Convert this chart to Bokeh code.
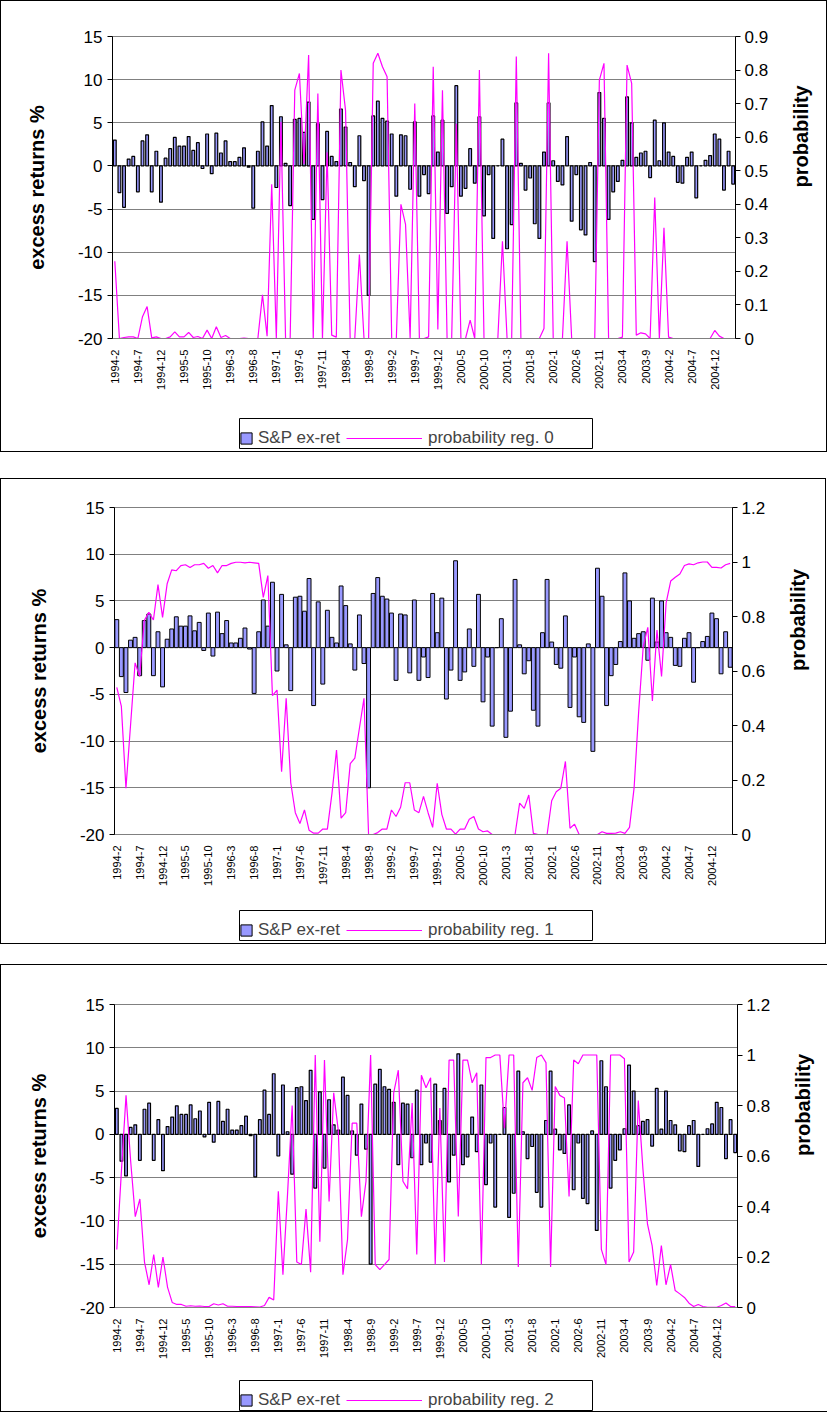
import math
from bokeh.plotting import figure
from bokeh.models import (Range1d, LinearAxis, FixedTicker, Legend, LegendItem,
                          Spacer, ColumnDataSource, BoxAnnotation)
from bokeh.layouts import column
from bokeh.embed import file_html
from bokeh.resources import INLINE

tick_labels = ["1994-2", "1994-7", "1994-12", "1995-5", "1995-10", "1996-3", "1996-8",
               "1997-1", "1997-6", "1997-11", "1998-4", "1998-9", "1999-2", "1999-7",
               "1999-12", "2000-5", "2000-10", "2001-3", "2001-8", "2002-1", "2002-6",
               "2002-11", "2003-4", "2003-9", "2004-2", "2004-7", "2004-12"]

excess = [3.0, -3.1, -4.8, 0.8, 1.1, -3.0, 2.9, 3.6, -3.0, 1.7,
          -4.2, 0.9, 2.0, 3.3, 2.3, 2.3, 3.4, 1.8, 2.7, -0.3,
          3.7, -0.9, 3.8, 1.5, 2.9, 0.5, 0.5, 1.0, 2.1, -0.15,
          -4.9, 1.7, 5.1, 2.3, 7.0, -2.5, 5.7, 0.3, -4.6, 5.4,
          5.5, 3.9, 7.4, -6.2, 4.9, -3.9, 4.0, 1.1, 0.5, 6.6,
          4.5, 0.4, -2.4, 3.5, -1.7, -15.0, 5.8, 7.5, 5.5, 5.2,
          3.7, -3.5, 3.6, 3.5, -2.7, 5.1, -3.5, -1.0, -3.2, 5.8,
          1.6, 5.3, -5.5, -2.4, 9.3, -3.5, -2.6, 2.0, -2.0, 5.7,
          -5.8, -1.0, -8.4, 0.0, 3.1, -9.6, -6.8, 7.3, 0.3, -2.8,
          -1.4, -6.7, -8.4, 1.6, 7.3, 0.6, -1.8, -2.2, 3.4, -6.4,
          -1.0, -7.4, -8.0, 0.4, -11.1, 8.5, 5.5, -6.2, -3.0, -1.8,
          0.65, 8.0, 5.0, 1.0, 1.5, 1.7, -1.35, 5.3, 0.6, 5.0,
          1.6, 1.1, -1.9, -2.0, 1.0, 1.6, -3.7, 0.0, 0.65, 1.2,
          3.7, 3.1, -2.8, 1.7, -2.1]

prob_reg0 = [0.23, 0.0, 0.003, 0.005, 0.005, 0.0, 0.065, 0.095, 0.002, 0.005,
             0.0, 0.0, 0.005, 0.02, 0.005, 0.005, 0.018, 0.003, 0.006, 0.0,
             0.025, 0.0, 0.035, 0.003, 0.009, 0.0, 0.0, 0.0, 0.001, 0.0,
             0.0, 0.0, 0.13, 0.007, 0.46, 0.0, 0.645, 0.0, 0.0, 0.74,
             0.79, 0.52, 0.845, 0.0, 0.73, 0.0, 0.555, 0.01, 0.004, 0.80,
             0.68, 0.0, 0.0, 0.25, 0.0, 0.0, 0.82, 0.85, 0.81, 0.78,
             0.0, 0.0, 0.40, 0.34, 0.0, 0.70, 0.0, 0.0, 0.005, 0.81,
             0.027, 0.74, 0.0, 0.0, 0.64, 0.0, 0.0, 0.055, 0.0, 0.80,
             0.0, 0.0, 0.0, 0.0, 0.29, 0.0, 0.0, 0.84, 0.0, 0.0,
             0.0, 0.0, 0.0, 0.03, 0.85, 0.0, 0.0, 0.0, 0.29, 0.0,
             0.0, 0.0, 0.0, 0.0, 0.0, 0.77, 0.82, 0.0, 0.0, 0.0,
             0.004, 0.815, 0.76, 0.01, 0.017, 0.014, 0.0, 0.42, 0.0, 0.33,
             0.004, 0.0, 0.0, 0.0, 0.0, 0.0, 0.0, 0.0, 0.0, 0.0,
             0.024, 0.007, 0.0, 0.0, 0.0]

prob_reg1 = [0.54, 0.47, 0.17, 0.40, 0.63, 0.58, 0.785, 0.815, 0.787, 0.917,
             0.797, 0.92, 0.971, 0.968, 0.987, 0.99, 0.98, 0.99, 0.99, 0.995,
             0.977, 0.987, 0.96, 0.987, 0.987, 0.995, 0.999, 0.999, 0.997, 0.999,
             0.997, 0.995, 0.87, 0.95, 0.51, 0.53, 0.23, 0.50, 0.19, 0.08,
             0.04, 0.09, 0.016, 0.005, 0.005, 0.02, 0.02, 0.15, 0.31, 0.06,
             0.08, 0.26, 0.28, 0.39, 0.50, 0.0, 0.0, 0.007, 0.02, 0.02,
             0.09, 0.066, 0.10, 0.19, 0.19, 0.09, 0.08, 0.14, 0.08, 0.026,
             0.188, 0.074, 0.02, 0.02, 0.001, 0.02, 0.02, 0.056, 0.066, 0.02,
             0.01, 0.013, 0.0, 0.0, 0.0, 0.0, 0.0, 0.0, 0.115, 0.096,
             0.145, 0.004, 0.0, 0.0, 0.0, 0.124, 0.157, 0.17, 0.268, 0.023,
             0.038, 0.0, 0.0, 0.0, 0.0, 0.0, 0.01, 0.004, 0.004, 0.005,
             0.01, 0.004, 0.026, 0.17, 0.45, 0.69, 0.76, 0.49, 0.75, 0.58,
             0.85, 0.93, 0.944, 0.956, 0.987, 0.993, 0.99, 0.997, 1.0, 1.0,
             0.98, 0.98, 0.978, 0.99, 0.995]

prob_reg2 = [0.23, 0.54, 0.84, 0.58, 0.36, 0.43, 0.18, 0.09, 0.21, 0.08,
             0.20, 0.08, 0.02, 0.012, 0.012, 0.005, 0.007, 0.005, 0.006, 0.004,
             0.004, 0.015, 0.01, 0.015, 0.005, 0.005, 0.004, 0.004, 0.004, 0.004,
             0.003, 0.002, 0.008, 0.04, 0.03, 0.46, 0.13, 0.45, 0.80, 0.18,
             0.17, 0.39, 0.14, 1.0, 0.26, 0.98, 0.42, 0.85, 0.70, 0.13,
             0.27, 0.73, 0.73, 0.36, 0.50, 1.0, 0.17, 0.15, 0.17, 0.19,
             0.85, 0.94, 0.50, 0.47, 0.81, 0.21, 0.92, 0.87, 0.91, 0.17,
             0.79, 0.18, 0.98, 0.98, 0.36, 0.98, 0.98, 0.89, 0.93, 0.17,
             0.99, 0.99, 1.0, 1.0, 0.71, 1.0, 1.0, 0.16, 0.89, 0.91,
             0.86, 0.99, 1.0, 0.97, 0.16, 0.875, 0.84, 0.83, 0.44, 0.98,
             0.965, 1.0, 1.0, 1.0, 1.0, 0.23, 0.17, 1.0, 1.0, 1.0,
             0.985, 0.18, 0.22, 0.82, 0.55, 0.33, 0.245, 0.087, 0.245, 0.09,
             0.17, 0.067, 0.054, 0.04, 0.017, 0.004, 0.012, 0.004, 0.001, 0.001,
             0.001, 0.008, 0.018, 0.004, 0.004]

left_ticks = [-20, -15, -10, -5, 0, 5, 10, 15]
left_tick_labels = ["-20", "-15", "-10", "-5", "0", "5", "10", "15"]
prob_ticks_09 = [0, 0.1, 0.2, 0.3, 0.4, 0.5, 0.6, 0.7, 0.8, 0.9]
prob_labels_09 = ["0", "0.1", "0.2", "0.3", "0.4", "0.5", "0.6", "0.7", "0.8", "0.9"]
prob_ticks_12 = [0, 0.2, 0.4, 0.6, 0.8, 1.0, 1.2]
prob_labels_12 = ["0", "0.2", "0.4", "0.6", "0.8", "1", "1.2"]

FONT = "Liberation Sans"
months = list(range(1, len(excess) + 1))
tick_pos = [1 + 5 * i for i in range(len(tick_labels))]
GRID = "#808080"
BAR_FILL = "#9999FF"
LINE_COL = "#FF00FF"
W = 824
bar_w_for = {0: 0.6, 1: 0.85, 2: 0.6}
bar_lw_for = {0: 1.2, 1: 1.0, 2: 1.2}


def make_panel(prob, reg, pmax, pticks, plabels, content_top, bt, frame_h, bb,
               bl, frame_w, leg_h, leg_left, leg_right, leg_bottom, line_left):
    br = W - bl - frame_w
    p = figure(frame_width=frame_w, frame_height=frame_h,
               min_border_left=bl, min_border_right=br,
               min_border_top=bt, min_border_bottom=bb,
               x_range=Range1d(0.5, len(excess) + 0.5),
               y_range=Range1d(-20, 15),
               output_backend="svg", toolbar_location=None)
    p.background_fill_color = "white"
    p.border_fill_color = "white"
    p.outline_line_color = GRID
    p.extra_y_ranges = {"prob": Range1d(0, pmax)}

    src = ColumnDataSource(dict(x=months, y=excess, p=prob))
    p.vbar(x="x", top="y", bottom=0, width=bar_w_for[reg], source=src,
           fill_color=BAR_FILL, line_color="#000000", line_width=bar_lw_for[reg])
    p.line(x="x", y="p", source=src, y_range_name="prob",
           line_color=LINE_COL, line_width=1.2)

    xa = p.xaxis[0]
    xa.ticker = FixedTicker(ticks=tick_pos)
    xa.major_label_overrides = {t: l for t, l in zip(tick_pos, tick_labels)}
    xa.major_label_orientation = math.pi / 2
    xa.major_label_text_font = FONT
    xa.major_label_text_font_size = "11px"
    xa.major_label_text_color = "black"
    xa.major_tick_line_color = None
    xa.minor_tick_line_color = None
    xa.axis_line_color = GRID
    xa.major_label_standoff = 5

    ya = p.yaxis[0]
    ya.ticker = FixedTicker(ticks=left_ticks)
    ya.major_label_overrides = {t: l for t, l in zip(left_ticks, left_tick_labels)}
    ya.major_label_text_font = FONT
    ya.major_label_text_font_size = "17px"
    ya.major_label_text_color = "black"
    ya.axis_line_color = "black"
    ya.major_tick_line_color = "black"
    ya.major_tick_out = 5
    ya.major_tick_in = 0
    ya.minor_tick_line_color = None
    ya.major_label_standoff = 5
    ya.axis_label = "excess returns %"
    ya.axis_label_text_font = FONT
    ya.axis_label_text_font_size = "20px"
    ya.axis_label_text_font_style = "bold"
    ya.axis_label_text_color = "black"
    ya.axis_label_standoff = 27

    ra = LinearAxis(y_range_name="prob", ticker=FixedTicker(ticks=pticks))
    ra.major_label_overrides = {t: l for t, l in zip(pticks, plabels)}
    ra.major_label_text_font = FONT
    ra.major_label_text_font_size = "17px"
    ra.major_label_text_color = "black"
    ra.axis_line_color = "black"
    ra.major_tick_line_color = "black"
    ra.major_tick_out = 5
    ra.major_tick_in = 0
    ra.minor_tick_line_color = None
    ra.major_label_standoff = 4
    ra.axis_label = "probability"
    ra.axis_label_text_font = FONT
    ra.axis_label_text_font_size = "20px"
    ra.axis_label_text_font_style = "bold"
    ra.axis_label_text_color = "black"
    ra.axis_label_standoff = 30
    try:
        ra.axis_label_orientation = math.pi / 2
    except Exception:
        pass
    p.add_layout(ra, "right")

    p.xgrid.visible = False
    p.ygrid.ticker = FixedTicker(ticks=left_ticks)
    p.ygrid.grid_line_color = GRID
    p.ygrid.grid_line_width = 1

    # ---- legend strip: own canvas, same frame alignment, page-pixel ranges ----
    strip_top = content_top + bt + frame_h + bb
    strip_bottom = strip_top + leg_h
    frame_left = 1 + bl
    lf = figure(frame_width=frame_w, frame_height=leg_h,
                min_border_left=bl, min_border_right=br,
                min_border_top=0, min_border_bottom=0,
                x_range=Range1d(frame_left, frame_left + frame_w),
                y_range=Range1d(strip_bottom, strip_top),
                x_axis_type=None, y_axis_type=None,
                output_backend="svg", toolbar_location=None)
    lf.outline_line_color = None
    lf.background_fill_color = "white"
    lf.border_fill_color = "white"
    nan_src = ColumnDataSource(dict(x=[float("nan")], y=[float("nan")]))
    ml_src = ColumnDataSource(dict(xs=[[float("nan")]], ys=[[float("nan")]]))
    db = lf.vbar(x="x", top="y", width=0.5, source=nan_src,
                 fill_color=BAR_FILL, line_color="#000000", line_width=1)
    dl = lf.multi_line(xs="xs", ys="ys", source=ml_src,
                       line_color=LINE_COL, line_width=1.2, line_alpha=1.0)
    box = BoxAnnotation(left=leg_left, right=leg_right, top=leg_bottom - 30,
                        bottom=leg_bottom, fill_alpha=0.0, fill_color=None,
                        line_color="black", line_width=1, line_alpha=1.0)
    lf.add_layout(box)
    pad = 5
    ly = strip_bottom - leg_bottom
    if ly % 2 == 0:
        ly += 1
    l1 = Legend(items=[LegendItem(label="S&P ex-ret", renderers=[db])],
                location=(leg_left - frame_left, ly),
                orientation="horizontal", glyph_width=14, glyph_height=14,
                label_standoff=5, padding=pad, margin=0,
                border_line_color=None, background_fill_alpha=0.0,
                label_text_font=FONT, label_text_font_size="17px")
    l2 = Legend(items=[LegendItem(label="probability reg. %d" % reg, renderers=[dl])],
                location=(line_left - pad - frame_left, ly),
                orientation="horizontal", glyph_width=76, glyph_height=14,
                label_standoff=6, padding=pad, margin=0,
                border_line_color=None, background_fill_alpha=0.0,
                label_text_font=FONT, label_text_font_size="17px")
    lf.add_layout(l1)
    lf.add_layout(l2)
    return column(p, lf, styles={"border": "1px solid black"})


c1 = make_panel(prob_reg0, 0, 0.9, prob_ticks_09, prob_labels_09,
                content_top=1, bt=35, frame_h=302, bb=67,
                bl=111, frame_w=623, leg_h=46,
                leg_left=239, leg_right=592, leg_bottom=448, line_left=351)
c2 = make_panel(prob_reg1, 1, 1.2, prob_ticks_12, prob_labels_12,
                content_top=479, bt=28, frame_h=327, bb=62,
                bl=113, frame_w=618, leg_h=47,
                leg_left=239, leg_right=592, leg_bottom=940, line_left=351)
c3 = make_panel(prob_reg2, 2, 1.2, prob_ticks_12, prob_labels_12,
                content_top=965, bt=39, frame_h=303, bb=62,
                bl=113, frame_w=623, leg_h=42,
                leg_left=239, leg_right=592, leg_bottom=1410, line_left=351)

layout = column(c1, Spacer(height=26), c2, Spacer(height=20), c3)
open("out.html", "w").write(file_html(layout, INLINE))
